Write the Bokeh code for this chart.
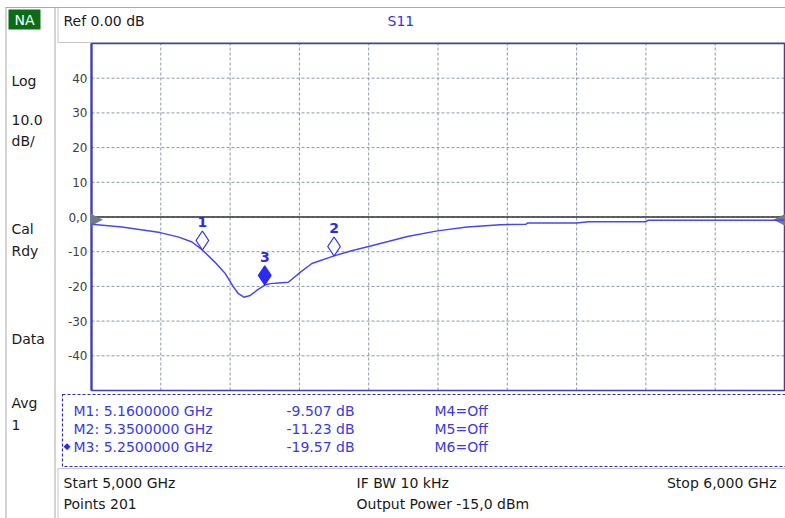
from bokeh.plotting import figure
from bokeh.models import Label, BoxAnnotation, Range1d
from bokeh.core.properties import value
from bokeh.embed import file_html
from bokeh.resources import INLINE

# ---------------- data ----------------
freq_ghz = [5.000, 5.044, 5.099, 5.126, 5.145, 5.160, 5.178, 5.193, 5.205, 5.212,
            5.220, 5.229, 5.239, 5.250, 5.258, 5.270, 5.284, 5.302, 5.318, 5.350,
            5.374, 5.400, 5.456, 5.499, 5.542, 5.590, 5.627, 5.629, 5.700, 5.717,
            5.800, 5.803, 6.000]
s11_db = [-2.1, -2.9, -4.5, -5.8, -7.2, -9.5, -13.0, -16.3, -20.2, -22.1,
          -23.1, -22.6, -21.1, -19.6, -19.2, -19.0, -18.8, -15.8, -13.4, -11.2,
          -9.8, -8.5, -5.6, -4.0, -2.9, -2.2, -2.1, -1.75, -1.7, -1.35,
          -1.35, -0.95, -0.95]

marker_ids = ["1", "2", "3"]
marker_freq = [5.16, 5.35, 5.25]
marker_db = [-9.507, -11.23, -19.57]
marker_active = [False, False, True]
off_markers = ["M4=Off", "M5=Off", "M6=Off"]

y_ticks = [-40, -30, -20, -10, 0, 10, 20, 30, 40]
y_tick_labels = ["-40", "-30", "-20", "-10", "0,0", "10", "20", "30", "40"]
x_grid = [5.1, 5.2, 5.3, 5.4, 5.5, 5.6, 5.7, 5.8, 5.9]
start_ghz, stop_ghz = 5.0, 6.0
y_min, y_max = -50, 50
ref_level = 0.0

sidebar_labels = ["Log", "10.0", "dB/", "Cal", "Rdy", "Data", "Avg", "1"]
header_left = "Ref 0.00 dB"
header_trace = "S11"
status_left = ["Start 5,000 GHz", "Points 201"]
status_mid = ["IF BW 10 kHz", "Output Power -15,0 dBm"]
status_right = "Stop 6,000 GHz"

# ---------------- layout (page pixels) ----------------
W, H = 785, 518
FL, FT, FR, FB = 91, 43, 784, 390     # plot area in page pixels
FONT = "DejaVu Sans"
BLUE_TXT = "#3a3ae2"
MK_BLUE = "#2a2af5"
GRAY_LN = "#a9a9a9"
LIGHT_LN = "#c6c6c6"

# data ranges spanning the whole canvas so that the plot area lands on FL..FR / FT..FB
fx = (stop_ghz - start_ghz) / (FR - FL)
fy = (y_max - y_min) / (FB - FT)
freq_range = Range1d(start_ghz - FL * fx, stop_ghz + (W - FR) * fx)
db_range = Range1d(y_min - (H - FB) * fy, y_max + FT * fy)

p = figure(width=W, height=H, x_range=Range1d(0, W), y_range=Range1d(H, 0),
           output_backend="svg", toolbar_location=None,
           x_axis_location=None, y_axis_location=None,
           min_border=0, min_border_left=0, min_border_right=0,
           min_border_top=0, min_border_bottom=0)
p.extra_x_ranges = {"freq": freq_range}
p.extra_y_ranges = {"db": db_range}
p.background_fill_color = "white"
p.border_fill_color = "white"
p.outline_line_color = None
p.xgrid.visible = False
p.ygrid.visible = False

RN = dict(x_range_name="freq", y_range_name="db")

# grid
p.segment(x0=x_grid, x1=x_grid, y0=[y_min] * len(x_grid), y1=[y_max] * len(x_grid),
          line_color="#8d99a6", line_dash="3 2", line_width=1, **RN)
p.segment(x0=[start_ghz] * len(y_ticks), x1=[stop_ghz] * len(y_ticks), y0=y_ticks, y1=y_ticks,
          line_color="#8d99a6", line_dash="3 2", line_width=1, **RN)

# plot area border
p.quad(left=[start_ghz], right=[stop_ghz], bottom=[y_min], top=[y_max],
       fill_alpha=0, line_color="#3e3eb0", line_width=1.5, **RN)
p.segment(x0=[start_ghz], x1=[start_ghz], y0=[y_min], y1=[y_max],
          line_color="#3e3ec0", line_width=2.2, **RN)

# y tick labels
p.text(x=[start_ghz] * len(y_ticks), y=y_ticks, text=y_tick_labels, x_offset=-4,
       text_align="right", text_baseline="middle", text_color="#404040",
       text_font=value(FONT), text_font_size="12px", **RN)

# reference line and reference position indicators
p.segment(x0=[start_ghz], x1=[stop_ghz], y0=[ref_level], y1=[ref_level],
          line_color="#333333", line_width=1.5, **RN)
p.text(x=[start_ghz], y=[ref_level], text=["\u25b6"], text_align="left", text_baseline="middle",
       x_offset=-1, y_offset=1, text_color="#6e7c88", text_font=value(FONT),
       text_font_size="16px", **RN)
p.text(x=[stop_ghz], y=[ref_level], text=["\u25c0"], text_align="right", text_baseline="middle",
       x_offset=1, y_offset=1, text_color="#6e7c88", text_font=value(FONT),
       text_font_size="16px", **RN)

# trace
p.line(freq_ghz, s11_db, line_color="#4646f4", line_width=1.5, **RN)

# markers (diamond sits above the trace point)
diamond_px = 19
diamond_y = [v + (diamond_px / 2) * fy for v in marker_db]
p.scatter(x=marker_freq, y=diamond_y, marker="diamond", size=diamond_px,
          fill_color=[MK_BLUE if a else "white" for a in marker_active],
          line_color=MK_BLUE, line_width=1.2, **RN)
p.text(x=marker_freq, y=marker_db, text=marker_ids, y_offset=-28, text_align="center",
       text_baseline="middle", text_color=MK_BLUE, text_font=value(FONT),
       text_font_size="14px", text_font_style="bold", **RN)


# ---------------- panel decorations (page pixel coordinates) ----------------
def txt(px, py, t, color="#1a1a1a", size="14px", align="left"):
    p.add_layout(Label(x=px, y=py, text=t, text_align=align, text_baseline="middle",
                       text_color=color, text_font=FONT, text_font_size=size))


def box(x0, x1, y0, y1, fill=None, line=None, dash="solid", lw=1):
    p.add_layout(BoxAnnotation(left=x0, right=x1, top=y0, bottom=y1,
                               fill_color=fill if fill else "white",
                               fill_alpha=1 if fill else 0,
                               line_color=line if line else "white",
                               line_alpha=1 if line else 0,
                               line_dash=dash, line_width=lw, level="underlay"))


# frame lines
box(5, 785, 6.5, 7.5, fill=GRAY_LN)        # top line
box(5, 6, 7, 518, fill=GRAY_LN)            # sidebar left edge
box(54, 55, 7, 518, fill=GRAY_LN)          # sidebar right edge
box(57, 58, 7, 42, fill=LIGHT_LN)          # header left edge
box(57, 785, 41.5, 42.5, fill=LIGHT_LN)    # header bottom
box(57, 785, 467.5, 468.5, fill=LIGHT_LN)  # status bar top
box(57, 58, 468, 518, fill=LIGHT_LN)       # status bar left

# NA badge
box(8, 40, 9, 29, fill="#0b6b16")
txt(24, 19, "NA", color="white", align="center")

# sidebar
side_y = [80, 119, 140, 228, 250, 338, 402, 424]
for lab, yy in zip(sidebar_labels, side_y):
    txt(11, yy, lab)

# header
txt(63, 20, header_left)
txt(387, 20, header_trace, color="#3636dc")

# marker table
box(62, 786, 394, 466, line="#2e2e9e", dash="3 2", lw=1.2)
row_y = [410, 428, 446.5]
for i in range(3):
    txt(73, row_y[i], f"M{i + 1}: {marker_freq[i]:.7f} GHz", color=BLUE_TXT)
    txt(286, row_y[i], f"{marker_db[i]:.4g} dB", color=BLUE_TXT)
    txt(434, row_y[i], off_markers[i], color=BLUE_TXT)
active_row = marker_active.index(True)
txt(66.5, row_y[active_row] - 1, "\u25c6", color=MK_BLUE, size="9px", align="center")

# status bar
txt(63, 482, status_left[0])
txt(63, 503, status_left[1])
txt(356, 482, status_mid[0])
txt(356, 503, status_mid[1])
txt(776, 482, status_right, align="right")

open("out.html", "w").write(file_html(p, INLINE))
